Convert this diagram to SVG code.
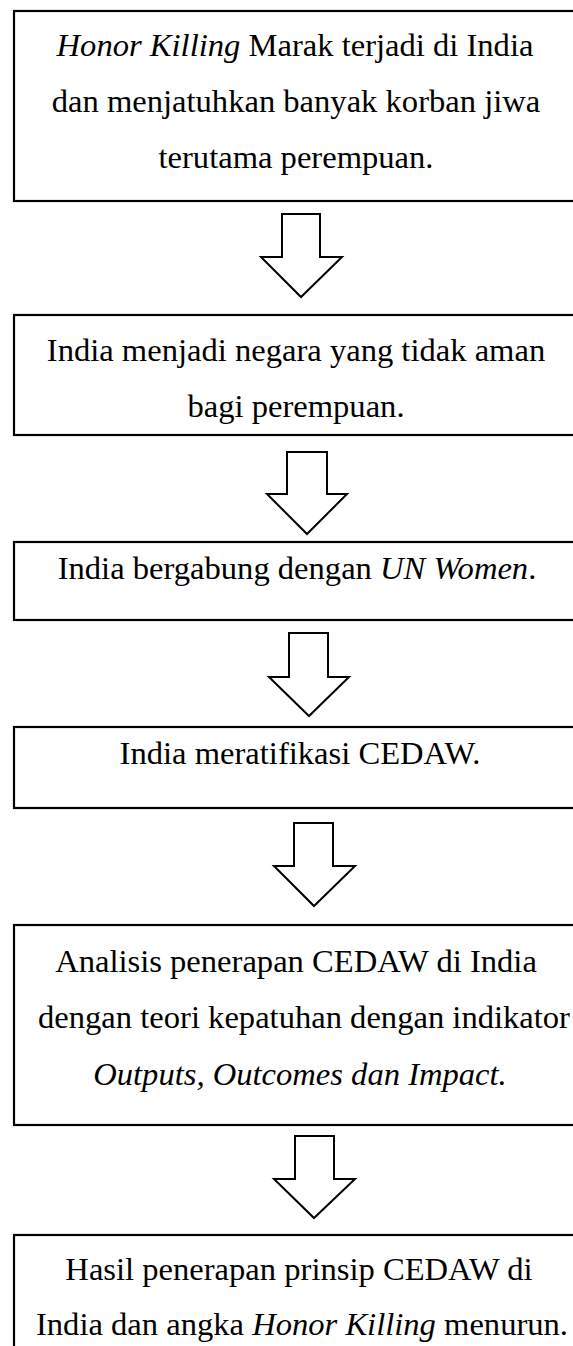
<svg xmlns="http://www.w3.org/2000/svg" width="573" height="1346" viewBox="0 0 573 1346">
<style>
.box{fill:#fff;stroke:#000;stroke-width:2.2}
.arr{fill:#fff;stroke:#000;stroke-width:2;stroke-linejoin:miter}
text{font-family:"Liberation Serif","Times New Roman",serif;font-size:32.6px;fill:#000;text-anchor:middle}
.i{font-style:italic}
</style>
<rect width="573" height="1346" fill="#fff"/>
<g id="connectors">
<polygon class="arr" points="282,214 320,214 320,257 342,257 301,297 261,257 282,257"/>
<polygon class="arr" points="287,452 327,452 327,494 347,494 307,534 267,494 287,494"/>
<polygon class="arr" points="289,633 328,633 328,677 349,677 309,716 269,677 289,677"/>
<polygon class="arr" points="294,823 333,823 333,866 355,866 314,906 274,866 294,866"/>
<polygon class="arr" points="295,1136 334,1136 334,1179 355,1179 314,1218 274,1179 295,1179"/>
</g>
<g id="n1">
<rect class="box" x="14" y="11" width="600" height="190"/>
<text x="295" y="56"><tspan class="i">Honor Killing</tspan> Marak terjadi di India</text>
<text x="296" y="112">dan menjatuhkan banyak korban jiwa</text>
<text x="296" y="168">terutama perempuan.</text>
</g>
<g id="n2">
<rect class="box" x="14" y="315" width="600" height="120"/>
<text x="296" y="361">India menjadi negara yang tidak aman</text>
<text x="296" y="417">bagi perempuan.</text>
</g>
<g id="n3">
<rect class="box" x="14" y="542" width="600" height="78"/>
<text x="297" y="579">India bergabung dengan <tspan class="i">UN Women</tspan>.</text>
</g>
<g id="n4">
<rect class="box" x="14" y="727" width="600" height="81"/>
<text x="300" y="764">India meratifikasi CEDAW.</text>
</g>
<g id="n5">
<rect class="box" x="14" y="925" width="600" height="200"/>
<text x="296" y="972">Analisis penerapan CEDAW di India</text>
<text x="304" y="1028">dengan teori kepatuhan dengan indikator</text>
<text x="300" y="1085" class="i">Outputs, Outcomes dan Impact.</text>
</g>
<g id="n6">
<rect class="box" x="14" y="1235" width="600" height="150"/>
<text x="299" y="1280">Hasil penerapan prinsip CEDAW di</text>
<text x="302" y="1335">India dan angka <tspan class="i">Honor Killing</tspan> menurun.</text>
</g>
</svg>
